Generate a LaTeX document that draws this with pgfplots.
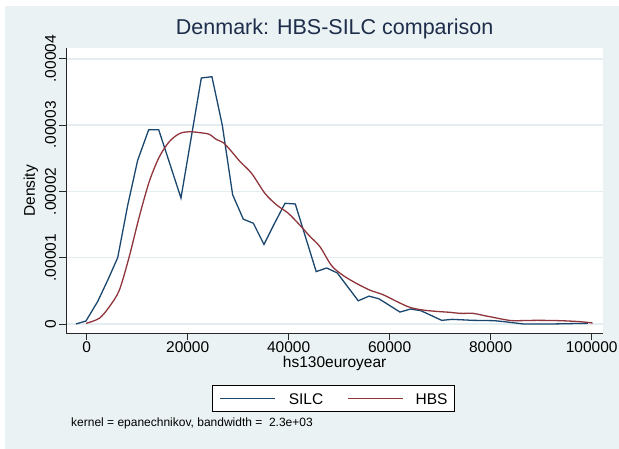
\documentclass[border=0pt]{standalone}
\usepackage{fontspec}
\setmainfont{Liberation Sans}
\usepackage{pgfplots}
\pgfplotsset{compat=1.18}
\definecolor{bgc}{RGB}{234,242,243}
\definecolor{gridc}{RGB}{228,237,240}
\definecolor{stnavy}{RGB}{26,71,111}
\definecolor{stmaroon}{RGB}{144,53,59}
\definecolor{titlec}{RGB}{30,45,75}
\definecolor{axc}{RGB}{40,40,40}
\pgfplotstableread{
x y
-2120 0.00
-140 0.045
2180 0.34
4160 0.66
6140 1.00
8120 1.79
10100 2.47
12280 2.93
14260 2.93
18670 1.90
22700 3.71
24800 3.73
26850 3.00
28900 1.95
31020 1.58
33000 1.52
35110 1.20
37150 1.51
39270 1.82
41310 1.81
45450 0.79
47520 0.845
49620 0.77
53780 0.35
55900 0.42
57880 0.38
62040 0.18
64160 0.226
66200 0.20
70300 0.055
72400 0.07
76500 0.055
80700 0.05
82700 0.035
86500 0.0
92000 0.0
99270 0.01
}\silc
\pgfplotstableread{
x y
-100 0.01
2500 0.086
4480 0.26
6460 0.51
8440 1.02
10420 1.62
12400 2.15
14380 2.52
16360 2.75
18340 2.87
20320 2.90
22970 2.88
24300 2.86
25740 2.78
27050 2.735
28700 2.60
30360 2.45
32670 2.27
35300 1.97
37620 1.795
39920 1.67
42230 1.49
44220 1.32
46200 1.165
48500 0.88
50820 0.73
53470 0.61
56100 0.51
58740 0.44
61390 0.34
64020 0.25
66660 0.21
69300 0.19
71950 0.176
74000 0.16
76560 0.16
78500 0.13
80520 0.10
82500 0.07
84480 0.05
89100 0.055
93720 0.05
97680 0.035
100200 0.015
}\hbs
\begin{document}
\begin{tikzpicture}
\fill[white] (0pt,0pt) rectangle (619pt,449pt);
\fill[bgc] (5pt,0pt) rectangle (619pt,443pt);
\begin{axis}[
  at={(66.3pt,115.7pt)}, anchor=south west,
  scale only axis, width=536.7pt, height=284.8pt,
  xmin=-4040, xmax=102240, ymin=-0.140, ymax=4.155,
  axis background/.style={fill=white},
  axis x line*=bottom, axis y line*=left,
  axis line style={draw=axc, line width=1pt},
  tick align=outside, major tick length=7pt,
  tick style={draw=axc, line width=0.8pt},
  scaled x ticks=false, scaled y ticks=false,
  xtick={0,20000,40000,60000,80000,100000},
  xticklabels={0,20000,40000,60000,80000,100000},
  ytick={0,1,2,3,4},
  yticklabels={0,.00001,.00002,.00003,.00004},
  /pgf/number format/assume math mode=true,
  ticklabel style={font=\fontsize{15.5}{18}\selectfont, text=black},
  xticklabel style={anchor=north, inner sep=1.5pt},
  yticklabel style={rotate=90, anchor=south, inner sep=3pt},
  ymajorgrids, grid style={draw=gridc, line width=1.5pt},
  xlabel={hs130euroyear},
  xlabel style={at={(axis description cs:0.5,-0.1194)}, anchor=base, font=\fontsize{15.5}{18}\selectfont},
  ylabel={Density},
  ylabel style={at={(axis description cs:-0.0658,0.5)}, anchor=center, font=\fontsize{15.5}{18}\selectfont},
  title={Denmark: HBS-SILC comparison},
  title style={at={(axis description cs:0.5,1.0298)}, anchor=base, font=\fontsize{21.5}{24}\selectfont, text=titlec},
  legend columns=2,
  legend style={at={(axis description cs:0.4979,-0.2298)}, anchor=center,
    draw=black, line width=0.8pt, fill=white, inner xsep=7pt, inner ysep=7.5pt,
    font=\fontsize{15.5}{18}\selectfont,
    nodes={inner sep=0pt, text depth=0pt},
    /tikz/every even column/.append style={column sep=24pt}},
  legend image code/.code={\draw[#1] (0pt,0pt) -- (55pt,0pt);},
]
\addplot[stnavy, line width=1.3pt] table[x=x,y=y] {\silc};
\addlegendentry{\hspace{13pt}SILC}
\addplot[stmaroon, line width=1.3pt, smooth, tension=0.5] table[x=x,y=y] {\hbs};
\addlegendentry{\hspace{12pt}HBS}
\end{axis}
\node[anchor=base west, font=\fontsize{12}{14}\selectfont, inner sep=0pt] at (71pt,22pt) {kernel = epanechnikov, bandwidth = \ 2.3e+03};
\end{tikzpicture}
\end{document}
